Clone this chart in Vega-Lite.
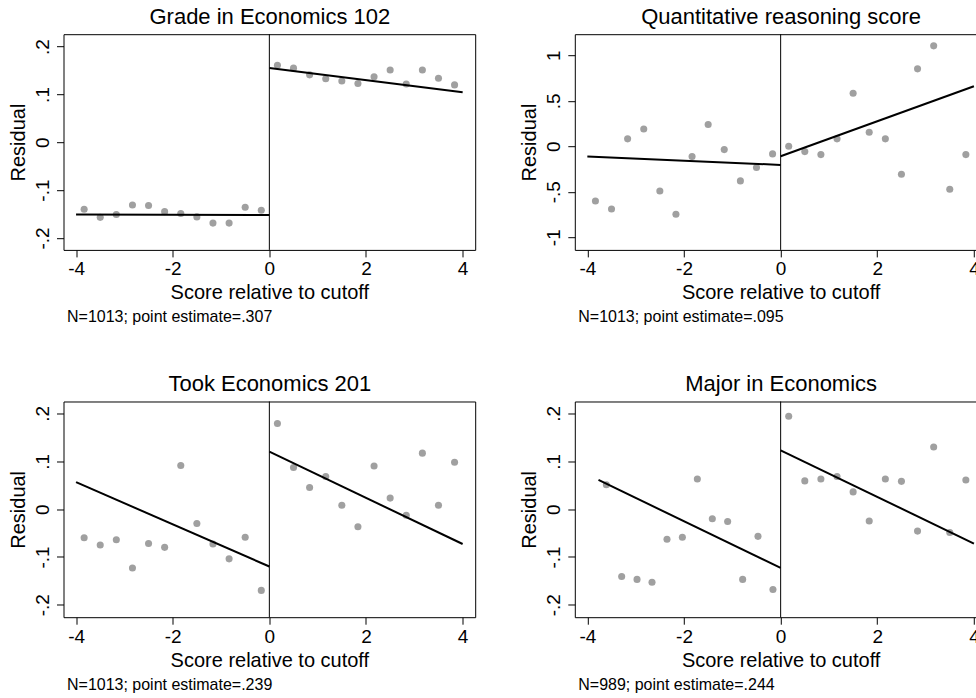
{
  "$schema": "https://vega.github.io/schema/vega-lite/v6.json",
  "background": "white",
  "padding": {"left": 7.5, "top": 4.2, "right": 0, "bottom": 0},
  "bounds": "flush",
  "columns": 2,
  "spacing": {"row": 151.3, "column": 99.3},
  "datasets": {
    "points": [
      {"panel": 1, "x": -3.833, "y": -0.140}, {"panel": 1, "x": -3.5, "y": -0.157}, {"panel": 1, "x": -3.167, "y": -0.151},
      {"panel": 1, "x": -2.833, "y": -0.131}, {"panel": 1, "x": -2.5, "y": -0.132}, {"panel": 1, "x": -2.167, "y": -0.145},
      {"panel": 1, "x": -1.833, "y": -0.149}, {"panel": 1, "x": -1.5, "y": -0.156}, {"panel": 1, "x": -1.167, "y": -0.169},
      {"panel": 1, "x": -0.833, "y": -0.169}, {"panel": 1, "x": -0.5, "y": -0.136}, {"panel": 1, "x": -0.167, "y": -0.142},
      {"panel": 1, "x": 0.167, "y": 0.161}, {"panel": 1, "x": 0.5, "y": 0.155}, {"panel": 1, "x": 0.833, "y": 0.141},
      {"panel": 1, "x": 1.167, "y": 0.133}, {"panel": 1, "x": 1.5, "y": 0.128}, {"panel": 1, "x": 1.833, "y": 0.123},
      {"panel": 1, "x": 2.167, "y": 0.137}, {"panel": 1, "x": 2.5, "y": 0.151}, {"panel": 1, "x": 2.833, "y": 0.122},
      {"panel": 1, "x": 3.167, "y": 0.151}, {"panel": 1, "x": 3.5, "y": 0.134}, {"panel": 1, "x": 3.833, "y": 0.120},

      {"panel": 2, "x": -3.833, "y": -0.601}, {"panel": 2, "x": -3.5, "y": -0.689}, {"panel": 2, "x": -3.167, "y": 0.081},
      {"panel": 2, "x": -2.833, "y": 0.190}, {"panel": 2, "x": -2.5, "y": -0.491}, {"panel": 2, "x": -2.167, "y": -0.747},
      {"panel": 2, "x": -1.833, "y": -0.114}, {"panel": 2, "x": -1.5, "y": 0.238}, {"panel": 2, "x": -1.167, "y": -0.037},
      {"panel": 2, "x": -0.833, "y": -0.381}, {"panel": 2, "x": -0.5, "y": -0.234}, {"panel": 2, "x": -0.167, "y": -0.084},
      {"panel": 2, "x": 0.167, "y": 0.0}, {"panel": 2, "x": 0.5, "y": -0.059}, {"panel": 2, "x": 0.833, "y": -0.092},
      {"panel": 2, "x": 1.167, "y": 0.081}, {"panel": 2, "x": 1.5, "y": 0.582}, {"panel": 2, "x": 1.833, "y": 0.154},
      {"panel": 2, "x": 2.167, "y": 0.081}, {"panel": 2, "x": 2.5, "y": -0.308}, {"panel": 2, "x": 2.833, "y": 0.850},
      {"panel": 2, "x": 3.167, "y": 1.103}, {"panel": 2, "x": 3.5, "y": -0.473}, {"panel": 2, "x": 3.833, "y": -0.092},

      {"panel": 3, "x": -3.833, "y": -0.060}, {"panel": 3, "x": -3.5, "y": -0.075}, {"panel": 3, "x": -3.167, "y": -0.064},
      {"panel": 3, "x": -2.833, "y": -0.123}, {"panel": 3, "x": -2.5, "y": -0.072}, {"panel": 3, "x": -2.167, "y": -0.080},
      {"panel": 3, "x": -1.833, "y": 0.091}, {"panel": 3, "x": -1.5, "y": -0.030}, {"panel": 3, "x": -1.167, "y": -0.073},
      {"panel": 3, "x": -0.833, "y": -0.104}, {"panel": 3, "x": -0.5, "y": -0.059}, {"panel": 3, "x": -0.167, "y": -0.170},
      {"panel": 3, "x": 0.167, "y": 0.179}, {"panel": 3, "x": 0.5, "y": 0.087}, {"panel": 3, "x": 0.833, "y": 0.045},
      {"panel": 3, "x": 1.167, "y": 0.068}, {"panel": 3, "x": 1.5, "y": 0.008}, {"panel": 3, "x": 1.833, "y": -0.037},
      {"panel": 3, "x": 2.167, "y": 0.090}, {"panel": 3, "x": 2.5, "y": 0.023}, {"panel": 3, "x": 2.833, "y": -0.013},
      {"panel": 3, "x": 3.167, "y": 0.117}, {"panel": 3, "x": 3.5, "y": 0.008}, {"panel": 3, "x": 3.833, "y": 0.098},

      {"panel": 4, "x": -3.607, "y": 0.051}, {"panel": 4, "x": -3.290, "y": -0.141}, {"panel": 4, "x": -2.972, "y": -0.147},
      {"panel": 4, "x": -2.662, "y": -0.153}, {"panel": 4, "x": -2.352, "y": -0.063}, {"panel": 4, "x": -2.034, "y": -0.059},
      {"panel": 4, "x": -1.724, "y": 0.063}, {"panel": 4, "x": -1.414, "y": -0.020}, {"panel": 4, "x": -1.097, "y": -0.026},
      {"panel": 4, "x": -0.786, "y": -0.147}, {"panel": 4, "x": -0.469, "y": -0.057}, {"panel": 4, "x": -0.159, "y": -0.168},
      {"panel": 4, "x": 0.167, "y": 0.194}, {"panel": 4, "x": 0.5, "y": 0.059}, {"panel": 4, "x": 0.833, "y": 0.063},
      {"panel": 4, "x": 1.167, "y": 0.068}, {"panel": 4, "x": 1.5, "y": 0.036}, {"panel": 4, "x": 1.833, "y": -0.025},
      {"panel": 4, "x": 2.167, "y": 0.063}, {"panel": 4, "x": 2.5, "y": 0.058}, {"panel": 4, "x": 2.833, "y": -0.046},
      {"panel": 4, "x": 3.167, "y": 0.130}, {"panel": 4, "x": 3.5, "y": -0.049}, {"panel": 4, "x": 3.833, "y": 0.061}
    ],
    "fits": [
      {"panel": 1, "side": "L", "x": -4, "y": -0.151}, {"panel": 1, "side": "L", "x": 0, "y": -0.152},
      {"panel": 1, "side": "R", "x": 0, "y": 0.1554}, {"panel": 1, "side": "R", "x": 4, "y": 0.1045},
      {"panel": 2, "side": "L", "x": -4, "y": -0.114}, {"panel": 2, "side": "L", "x": 0, "y": -0.205},
      {"panel": 2, "side": "R", "x": 0, "y": -0.110}, {"panel": 2, "side": "R", "x": 4, "y": 0.659},
      {"panel": 3, "side": "L", "x": -4, "y": 0.0564}, {"panel": 3, "side": "L", "x": 0, "y": -0.120},
      {"panel": 3, "side": "R", "x": 0, "y": 0.120}, {"panel": 3, "side": "R", "x": 4, "y": -0.073},
      {"panel": 4, "side": "L", "x": -3.77, "y": 0.061}, {"panel": 4, "side": "L", "x": 0, "y": -0.123},
      {"panel": 4, "side": "R", "x": 0, "y": 0.123}, {"panel": 4, "side": "R", "x": 4, "y": -0.072}
    ]
  },
  "concat": [
    {
      "width": 411.7, "height": 215.7,
      "title": {"text": "N=1013; point estimate=.307", "orient": "bottom", "anchor": "start", "frame": "group", "offset": 6.5, "dx": 3.5},
      "resolve": {"axis": {"x": "independent"}},
      "layer": [
        {"data": {"values": [{}]}, "mark": {"type": "rule", "color": "black", "strokeWidth": 1},
         "encoding": {"x": {"datum": 0, "type": "quantitative", "scale": {"domain": [-4.26, 4.26], "nice": false, "zero": false},
           "axis": {"orient": "top", "title": "Grade in Economics 102", "labels": false, "ticks": false, "titleFontSize": 22, "titleBaseline": "alphabetic", "titlePadding": 11}}}},
        {"data": {"name": "points"}, "transform": [{"filter": "datum.panel == 1"}],
         "mark": {"type": "circle", "size": 50, "color": "#a0a0a0", "opacity": 1},
         "encoding": {
           "x": {"field": "x", "type": "quantitative", "scale": {"domain": [-4.26, 4.26], "nice": false, "zero": false},
             "axis": {"orient": "bottom", "title": "Score relative to cutoff", "values": [-4, -2, 0, 2, 4], "labelExpr": "(datum.value < 0 ? '-' : '') + toString(abs(datum.value))"}},
           "y": {"field": "y", "type": "quantitative", "scale": {"domain": [-0.225, 0.226], "nice": false, "zero": false},
             "axis": {"title": "Residual", "values": [-0.2, -0.1, 0, 0.1, 0.2], "labelExpr": "(datum.value < 0 ? '-' : '') + replace(toString(abs(datum.value)), '0.', '.')"}}}},
        {"data": {"name": "fits"}, "transform": [{"filter": "datum.panel == 1"}],
         "mark": {"type": "line", "color": "black", "strokeWidth": 2},
         "encoding": {
           "x": {"field": "x", "type": "quantitative", "scale": {"domain": [-4.26, 4.26], "nice": false, "zero": false}, "axis": null},
           "y": {"field": "y", "type": "quantitative", "scale": {"domain": [-0.225, 0.226], "nice": false, "zero": false}},
           "detail": {"field": "side"}}}
      ]
    },
    {
      "width": 411.7, "height": 215.7,
      "title": {"text": "N=1013; point estimate=.095", "orient": "bottom", "anchor": "start", "frame": "group", "offset": 6.5, "dx": 3.5},
      "resolve": {"axis": {"x": "independent"}},
      "layer": [
        {"data": {"values": [{}]}, "mark": {"type": "rule", "color": "black", "strokeWidth": 1},
         "encoding": {"x": {"datum": 0, "type": "quantitative", "scale": {"domain": [-4.26, 4.26], "nice": false, "zero": false},
           "axis": {"orient": "top", "title": "Quantitative reasoning score", "labels": false, "ticks": false, "titleFontSize": 22, "titleBaseline": "alphabetic", "titlePadding": 11}}}},
        {"data": {"name": "points"}, "transform": [{"filter": "datum.panel == 2"}],
         "mark": {"type": "circle", "size": 50, "color": "#a0a0a0", "opacity": 1},
         "encoding": {
           "x": {"field": "x", "type": "quantitative", "scale": {"domain": [-4.26, 4.26], "nice": false, "zero": false},
             "axis": {"orient": "bottom", "title": "Score relative to cutoff", "values": [-4, -2, 0, 2, 4], "labelExpr": "(datum.value < 0 ? '-' : '') + toString(abs(datum.value))"}},
           "y": {"field": "y", "type": "quantitative", "scale": {"domain": [-1.139, 1.231], "nice": false, "zero": false},
             "axis": {"title": "Residual", "values": [-1, -0.5, 0, 0.5, 1], "labelExpr": "(datum.value < 0 ? '-' : '') + replace(toString(abs(datum.value)), '0.', '.')"}}}},
        {"data": {"name": "fits"}, "transform": [{"filter": "datum.panel == 2"}],
         "mark": {"type": "line", "color": "black", "strokeWidth": 2},
         "encoding": {
           "x": {"field": "x", "type": "quantitative", "scale": {"domain": [-4.26, 4.26], "nice": false, "zero": false}, "axis": null},
           "y": {"field": "y", "type": "quantitative", "scale": {"domain": [-1.139, 1.231], "nice": false, "zero": false}},
           "detail": {"field": "side"}}}
      ]
    },
    {
      "width": 411.7, "height": 215.7,
      "title": {"text": "N=1013; point estimate=.239", "orient": "bottom", "anchor": "start", "frame": "group", "offset": 6.5, "dx": 3.5},
      "resolve": {"axis": {"x": "independent"}},
      "layer": [
        {"data": {"values": [{}]}, "mark": {"type": "rule", "color": "black", "strokeWidth": 1},
         "encoding": {"x": {"datum": 0, "type": "quantitative", "scale": {"domain": [-4.26, 4.26], "nice": false, "zero": false},
           "axis": {"orient": "top", "title": "Took Economics 201", "labels": false, "ticks": false, "titleFontSize": 22, "titleBaseline": "alphabetic", "titlePadding": 11}}}},
        {"data": {"name": "points"}, "transform": [{"filter": "datum.panel == 3"}],
         "mark": {"type": "circle", "size": 50, "color": "#a0a0a0", "opacity": 1},
         "encoding": {
           "x": {"field": "x", "type": "quantitative", "scale": {"domain": [-4.26, 4.26], "nice": false, "zero": false},
             "axis": {"orient": "bottom", "title": "Score relative to cutoff", "values": [-4, -2, 0, 2, 4], "labelExpr": "(datum.value < 0 ? '-' : '') + toString(abs(datum.value))"}},
           "y": {"field": "y", "type": "quantitative", "scale": {"domain": [-0.226, 0.225], "nice": false, "zero": false},
             "axis": {"title": "Residual", "values": [-0.2, -0.1, 0, 0.1, 0.2], "labelExpr": "(datum.value < 0 ? '-' : '') + replace(toString(abs(datum.value)), '0.', '.')"}}}},
        {"data": {"name": "fits"}, "transform": [{"filter": "datum.panel == 3"}],
         "mark": {"type": "line", "color": "black", "strokeWidth": 2},
         "encoding": {
           "x": {"field": "x", "type": "quantitative", "scale": {"domain": [-4.26, 4.26], "nice": false, "zero": false}, "axis": null},
           "y": {"field": "y", "type": "quantitative", "scale": {"domain": [-0.226, 0.225], "nice": false, "zero": false}},
           "detail": {"field": "side"}}}
      ]
    },
    {
      "width": 411.7, "height": 215.7,
      "title": {"text": "N=989; point estimate=.244", "orient": "bottom", "anchor": "start", "frame": "group", "offset": 6.5, "dx": 3.5},
      "resolve": {"axis": {"x": "independent"}},
      "layer": [
        {"data": {"values": [{}]}, "mark": {"type": "rule", "color": "black", "strokeWidth": 1},
         "encoding": {"x": {"datum": 0, "type": "quantitative", "scale": {"domain": [-4.26, 4.26], "nice": false, "zero": false},
           "axis": {"orient": "top", "title": "Major in Economics", "labels": false, "ticks": false, "titleFontSize": 22, "titleBaseline": "alphabetic", "titlePadding": 11}}}},
        {"data": {"name": "points"}, "transform": [{"filter": "datum.panel == 4"}],
         "mark": {"type": "circle", "size": 50, "color": "#a0a0a0", "opacity": 1},
         "encoding": {
           "x": {"field": "x", "type": "quantitative", "scale": {"domain": [-4.26, 4.26], "nice": false, "zero": false},
             "axis": {"orient": "bottom", "title": "Score relative to cutoff", "values": [-4, -2, 0, 2, 4], "labelExpr": "(datum.value < 0 ? '-' : '') + toString(abs(datum.value))"}},
           "y": {"field": "y", "type": "quantitative", "scale": {"domain": [-0.226, 0.225], "nice": false, "zero": false},
             "axis": {"title": "Residual", "values": [-0.2, -0.1, 0, 0.1, 0.2], "labelExpr": "(datum.value < 0 ? '-' : '') + replace(toString(abs(datum.value)), '0.', '.')"}}}},
        {"data": {"name": "fits"}, "transform": [{"filter": "datum.panel == 4"}],
         "mark": {"type": "line", "color": "black", "strokeWidth": 2},
         "encoding": {
           "x": {"field": "x", "type": "quantitative", "scale": {"domain": [-4.26, 4.26], "nice": false, "zero": false}, "axis": null},
           "y": {"field": "y", "type": "quantitative", "scale": {"domain": [-0.226, 0.225], "nice": false, "zero": false}},
           "detail": {"field": "side"}}}
      ]
    }
  ],
  "config": {
    "font": "Liberation Sans",
    "view": {"stroke": "black", "strokeWidth": 1},
    "axis": {
      "grid": false, "domain": false,
      "labelFont": "Liberation Sans", "titleFont": "Liberation Sans",
      "labelColor": "black", "titleColor": "black", "tickColor": "black",
      "labelFontSize": 19, "titleFontSize": 20, "titleFontWeight": "normal",
      "tickSize": 7, "tickWidth": 1, "labelPadding": 3, "titlePadding": 4
    },
    "axisLeft": {"labelAngle": 270, "labelAlign": "center", "labelBaseline": "bottom", "labelPadding": 4, "titlePadding": 5},
    "title": {"font": "Liberation Sans", "fontSize": 16, "fontWeight": "normal", "color": "black"}
  }
}
